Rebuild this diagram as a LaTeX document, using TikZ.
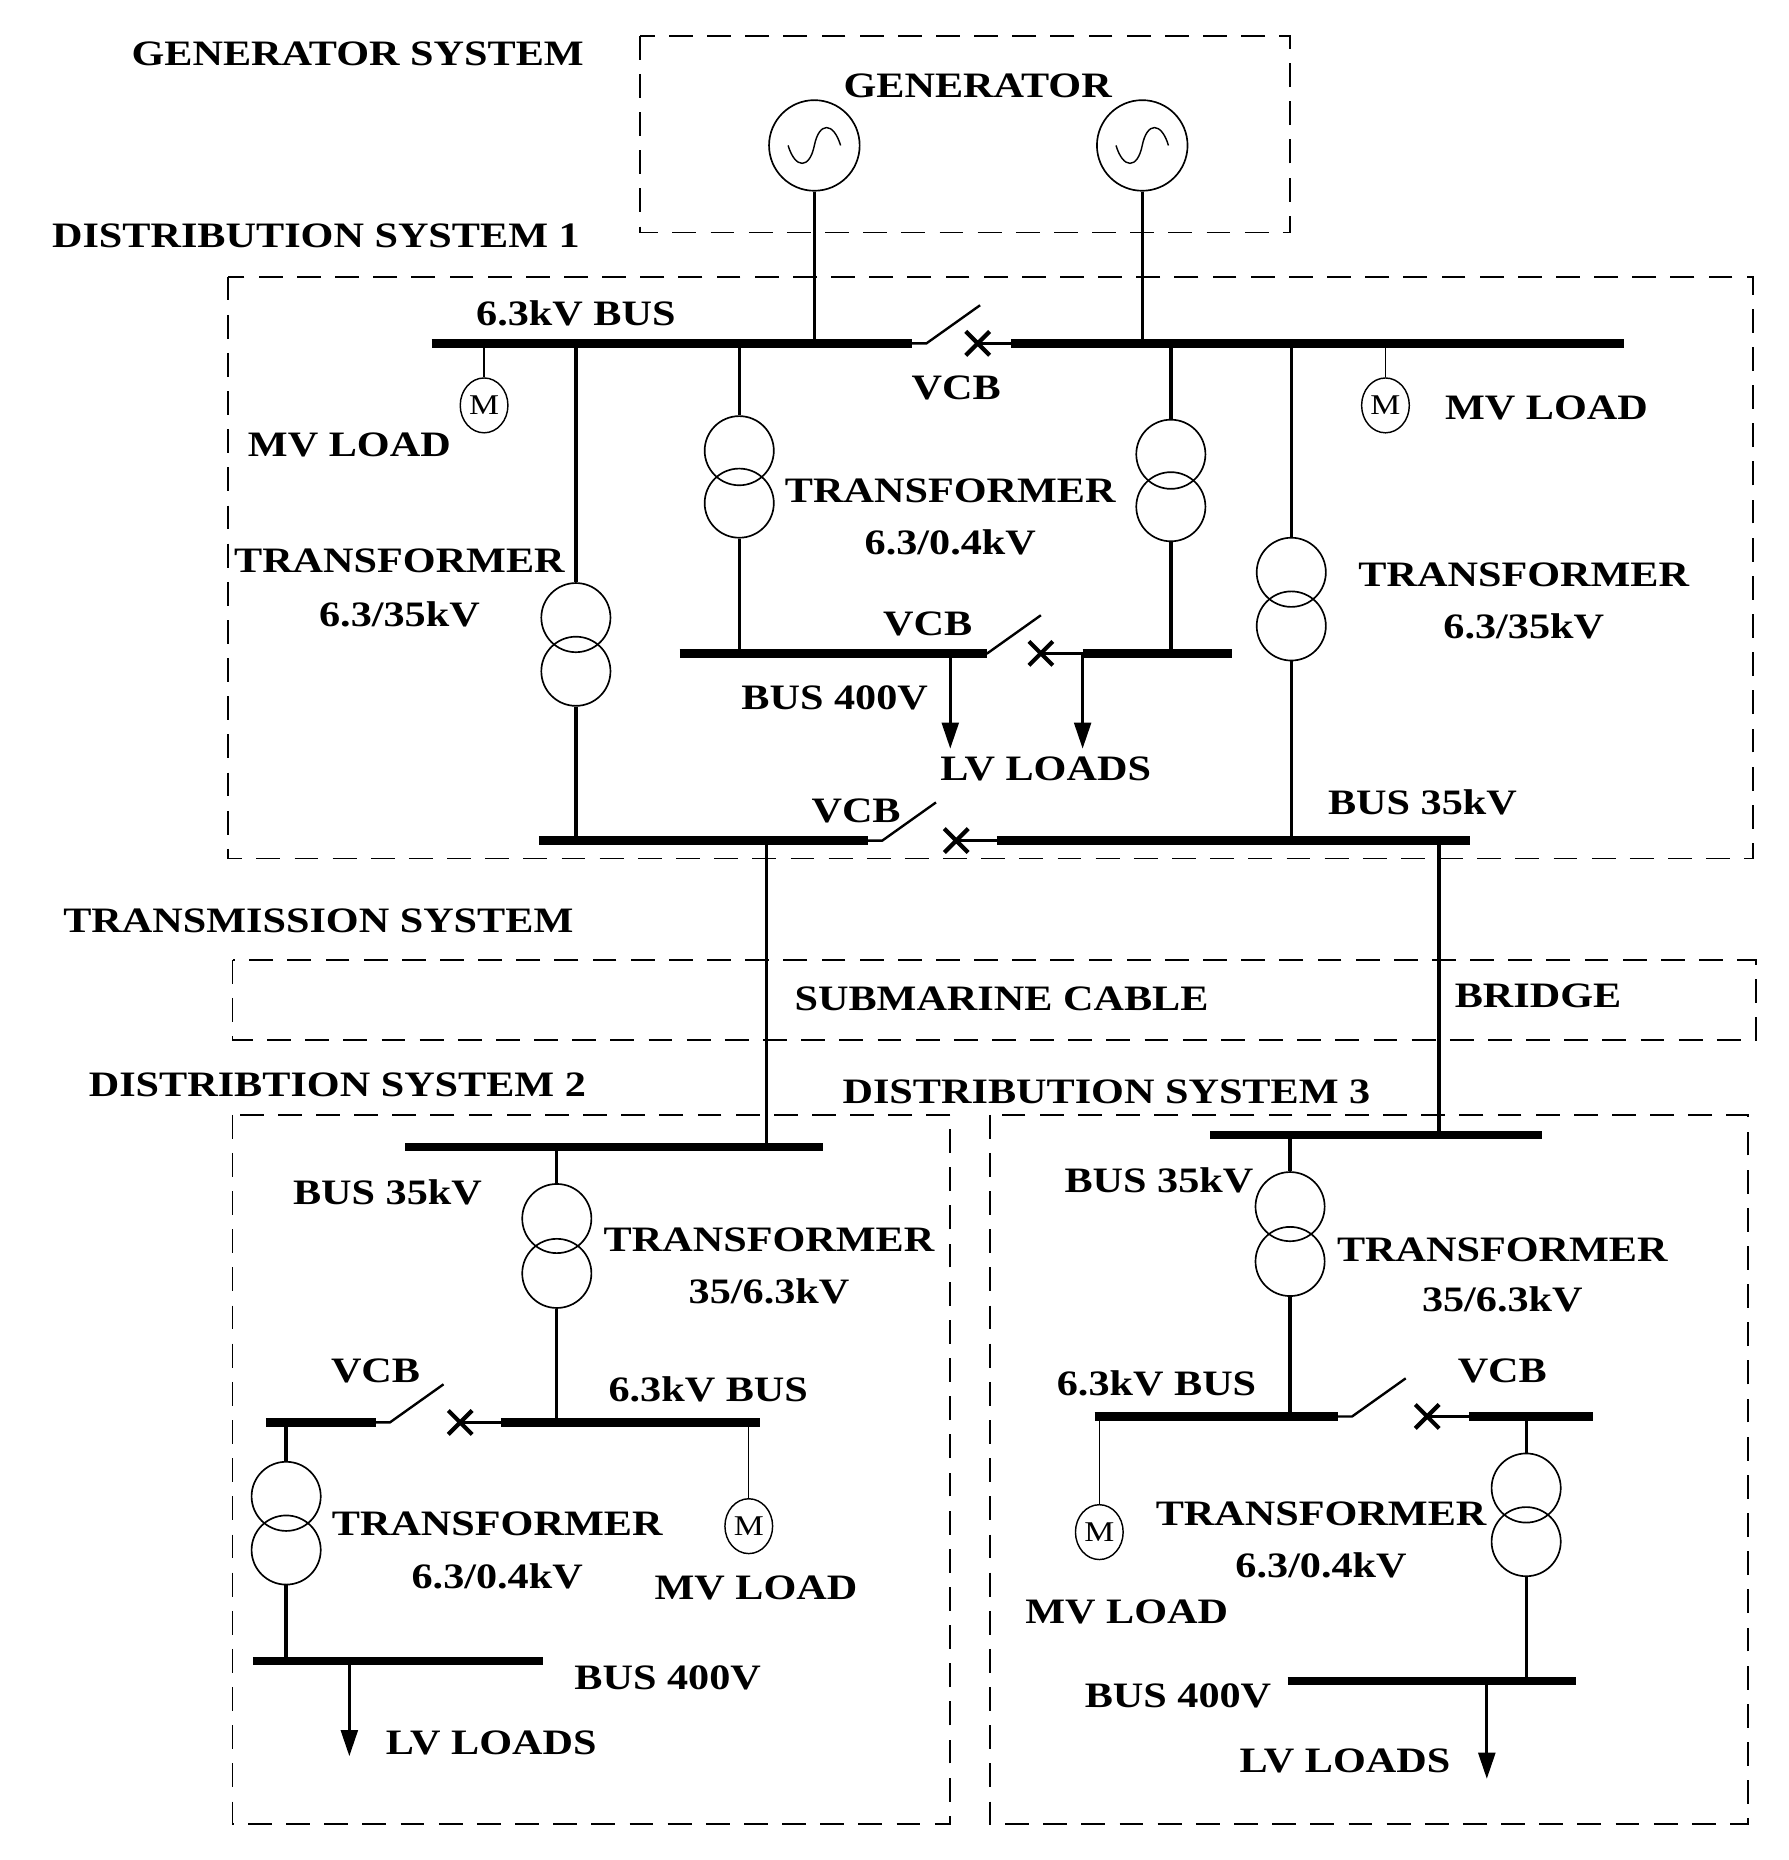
\documentclass[tikz,border=0pt]{standalone}
\usepackage{fontspec}
\setmainfont{Liberation Serif}[FakeStretch=1.18]
\usetikzlibrary{arrows.meta,shapes.geometric}
\begin{document}
\begin{tikzpicture}[x=1pt,y=-1pt,
  lbl/.style={font=\bfseries\fontsize{30}{32}\selectfont,inner sep=0pt},
  box/.style={line width=1.6pt,dash pattern=on 20pt off 12pt},
  bus/.style={line width=7pt},
  wire/.style={line width=2.8pt},
  thin/.style={line width=1.2pt},
  tr/.style={circle,draw,line width=1.4pt,minimum size=58pt,inner sep=0pt},
  gen/.style={circle,draw,line width=1.4pt,minimum size=76pt,inner sep=0pt},
  mot/.style={ellipse,draw,line width=1.2pt,minimum width=40pt,minimum height=46pt,inner sep=0pt,font=\fontsize{24}{24}\selectfont},
  arr/.style={line width=2.8pt,-{Triangle[length=22pt,width=14pt]}},
  sw/.style={line width=2pt},
  xx/.style={line width=3.5pt}]
\useasboundingbox (0,0) rectangle (1500,1560);
\newcommand{\brk}[4]{% left end x, cross x, y, right end x
  \draw[sw] (#1,#3) -- ++(12,0) -- ++(45,-32);
  \draw[xx] (#2-10,#3-10) -- (#2+10,#3+10) (#2-10,#3+10) -- (#2+10,#3-10);
  \draw[sw] (#2,#3) -- (#4,#3);}
% boxes
\draw[box] (537,30) rectangle (1082,195);
\draw[box] (191,232) rectangle (1470,720);
\draw[box] (195,805) rectangle (1473,872);
\draw[box] (195,935) rectangle (797,1530);
\draw[box] (830,935) rectangle (1466,1530);
% labels
\node[lbl] at (300,45) {GENERATOR SYSTEM};
\node[lbl] at (820,72) {GENERATOR};
\node[lbl] at (265,198) {DISTRIBUTION SYSTEM 1};
\node[lbl] at (267,772) {TRANSMISSION SYSTEM};
\node[lbl] at (283,910) {DISTRIBTION SYSTEM 2};
\node[lbl,fill=white,inner sep=2pt] at (928,916) {DISTRIBUTION SYSTEM 3};
% generators
\node[gen] (g1) at (683,122) {};
\node[gen] (g2) at (958,122) {};
\foreach \g in {g1,g2}{\draw[line width=1.2pt] ([xshift=-22pt]\g.center) .. controls ([xshift=-16pt,yshift=-20pt]\g.center) and ([xshift=-4pt,yshift=-20pt]\g.center) .. (\g.center) .. controls ([xshift=4pt,yshift=20pt]\g.center) and ([xshift=16pt,yshift=20pt]\g.center) .. ([xshift=22pt]\g.center);}
% DS1 top bus
\draw[bus] (362,288) -- (765,288);
\draw[bus] (848,288) -- (1362,288);
\brk{765}{820}{288}{848}
\node[lbl] at (483,263) {6.3kV BUS};
\node[lbl] at (802,325) {VCB};
\draw[wire] (g1) -- (683,288);
\draw[wire] (g2) -- (958,288);
% motors DS1
\node[mot] (m1) at (406,340) {M};
\draw[thin] (406,288) -- (m1);
\node[lbl] at (293,373) {MV LOAD};
\node[mot] (m2) at (1162,340) {M};
\draw[thin] (1162,288) -- (m2);
\node[lbl] at (1297,342) {MV LOAD};
% transformers DS1
\node[tr] (t1a) at (483,518) {}; \node[tr] (t1b) at (483,563) {};
\draw[wire] (483,288) -- (t1a.north); \draw[wire] (t1b.south) -- (483,705);
\node[lbl] at (335,470) {TRANSFORMER}; \node[lbl] at (335,515) {6.3/35kV};
\node[tr] (t2a) at (620,378) {}; \node[tr] (t2b) at (620,422) {};
\draw[wire] (620,288) -- (t2a.north); \draw[wire] (t2b.south) -- (620,548);
\node[tr] (t3a) at (982,381) {}; \node[tr] (t3b) at (982,425) {};
\draw[wire] (982,288) -- (t3a.north); \draw[wire] (t3b.south) -- (982,548);
\node[lbl] at (797,412) {TRANSFORMER}; \node[lbl] at (797,455) {6.3/0.4kV};
\node[tr] (t4a) at (1083,480) {}; \node[tr] (t4b) at (1083,525) {};
\draw[wire] (1083,288) -- (t4a.north); \draw[wire] (t4b.south) -- (1083,705);
\node[lbl] at (1278,482) {TRANSFORMER}; \node[lbl] at (1278,525) {6.3/35kV};
% 400V bus DS1
\draw[bus] (570,548) -- (828,548);
\draw[bus] (908,548) -- (1033,548);
\brk{816}{873}{548}{908}
\node[lbl] at (778,523) {VCB};
\node[lbl] at (700,585) {BUS 400V};
\draw[arr] (797,548) -- (797,628);
\draw[arr] (908,548) -- (908,628);
\node[lbl] at (877,645) {LV LOADS};
% 35kV bus DS1
\draw[bus] (452,705) -- (728,705);
\draw[bus] (836,705) -- (1233,705);
\brk{728}{802}{705}{836}
\node[lbl] at (718,680) {VCB};
\node[lbl] at (1193,673) {BUS 35kV};
\draw[wire] (643,705) -- (643,962);
\draw[wire] (1207,705) -- (1207,952);
\node[lbl] at (840,838) {SUBMARINE CABLE};
\node[lbl] at (1290,835) {BRIDGE};
% DS2
\draw[bus] (340,962) -- (690,962);
\node[lbl] at (325,1000) {BUS 35kV};
\node[tr] (t5a) at (467,1022) {}; \node[tr] (t5b) at (467,1068) {};
\draw[wire] (467,962) -- (t5a.north); \draw[wire] (t5b.south) -- (467,1193);
\node[lbl] at (645,1040) {TRANSFORMER}; \node[lbl] at (645,1083) {35/6.3kV};
\draw[bus] (223,1193) -- (315,1193);
\draw[bus] (420,1193) -- (637,1193);
\brk{315}{386}{1193}{420}
\node[lbl] at (315,1150) {VCB};
\node[lbl] at (594,1165) {6.3kV BUS};
\node[tr] (t6a) at (240,1255) {}; \node[tr] (t6b) at (240,1300) {};
\draw[wire] (240,1193) -- (t6a.north); \draw[wire] (t6b.south) -- (240,1393);
\node[lbl] at (417,1278) {TRANSFORMER}; \node[lbl] at (417,1322) {6.3/0.4kV};
\node[mot] (m3) at (628,1280) {M};
\draw[thin] (628,1193) -- (m3);
\node[lbl] at (634,1332) {MV LOAD};
\draw[bus] (212,1393) -- (455,1393);
\node[lbl] at (560,1407) {BUS 400V};
\draw[arr] (293,1393) -- (293,1473);
\node[lbl] at (412,1462) {LV LOADS};
% DS3
\draw[bus] (1015,952) -- (1293,952);
\node[lbl] at (972,990) {BUS 35kV};
\node[tr] (t7a) at (1082,1012) {}; \node[tr] (t7b) at (1082,1058) {};
\draw[wire] (1082,952) -- (t7a.north); \draw[wire] (t7b.south) -- (1082,1188);
\node[lbl] at (1260,1048) {TRANSFORMER}; \node[lbl] at (1260,1090) {35/6.3kV};
\draw[bus] (918,1188) -- (1122,1188);
\draw[bus] (1232,1188) -- (1336,1188);
\brk{1122}{1197}{1188}{1232}
\node[lbl] at (1260,1150) {VCB};
\node[lbl] at (970,1160) {6.3kV BUS};
\node[mot] (m4) at (922,1285) {M};
\draw[thin] (922,1188) -- (m4);
\node[lbl] at (945,1352) {MV LOAD};
\node[tr] (t8a) at (1280,1248) {}; \node[tr] (t8b) at (1280,1293) {};
\draw[wire] (1280,1188) -- (t8a.north); \draw[wire] (t8b.south) -- (1280,1410);
\node[lbl] at (1108,1270) {TRANSFORMER}; \node[lbl] at (1108,1313) {6.3/0.4kV};
\draw[bus] (1080,1410) -- (1322,1410);
\node[lbl] at (988,1422) {BUS 400V};
\draw[arr] (1247,1410) -- (1247,1492);
\node[lbl] at (1128,1477) {LV LOADS};
\end{tikzpicture}
\end{document}
